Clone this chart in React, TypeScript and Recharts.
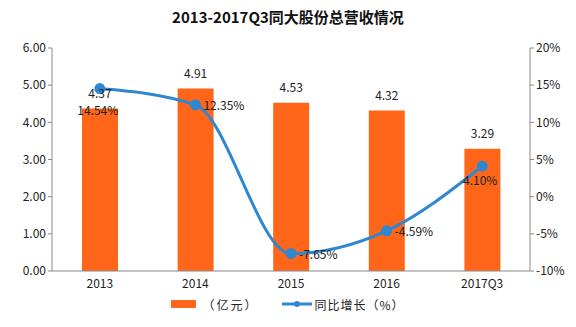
import React from "react";
import { ComposedChart, Bar, Line, XAxis, YAxis, Legend, LabelList } from "recharts";

const categories = ["2013", "2014", "2015", "2016", "2017Q3"];
const revenue = [4.37, 4.91, 4.53, 4.32, 3.29];
const growth = [14.54, 12.35, -7.65, -4.59, 4.1];
const leftTicks = [0, 1, 2, 3, 4, 5, 6];
const rightTicks = [-10, -5, 0, 5, 10, 15, 20];
const title = "2013-2017Q3同大股份总营收情况";
const barName = "（亿元）";
const lineName = "同比增长（%）";

const data = categories.map((c, i) => ({ name: c, revenue: revenue[i], growth: growth[i] }));

const BAR_COLOR = "#FF661A";
const LINE_COLOR = "#2E87CF";
const FONT = "'Noto Sans CJK SC', 'DejaVu Sans', sans-serif";

const GrowthLabel = (props: any) => {
  const { x, y, value, index } = props;
  const text = `${Number(value).toFixed(2)}%`;
  if (index === 0 || index === 4) {
    const dy = index === 0 ? 23 : 16;
    return (
      <text x={x - 2} y={y + dy} textAnchor="middle" dominantBaseline="middle" fontSize={12} fill="#222" fontFamily={FONT}>
        {text}
      </text>
    );
  }
  return (
    <text x={x + 8} y={y + 2} textAnchor="start" dominantBaseline="middle" fontSize={12} fill="#222" fontFamily={FONT}>
      {text}
    </text>
  );
};

const BarLabel = (props: any) => {
  const { x, y, width, value } = props;
  return (
    <text x={x + width / 2} y={y - 14} textAnchor="middle" dominantBaseline="middle" fontSize={12} fill="#222" fontFamily={FONT}>
      {Number(value).toFixed(2)}
    </text>
  );
};

const LegendContent = () => (
  <div style={{ display: "flex", justifyContent: "center", alignItems: "center", fontFamily: FONT, fontSize: 12, color: "#222", height: 22, paddingRight: 8 }}>
    <span style={{ display: "inline-block", width: 25, height: 8, background: BAR_COLOR, marginRight: 6 }} />
    <span style={{ marginRight: 24, letterSpacing: 2 }}>{barName}</span>
    <svg width={30} height={10} style={{ marginRight: 2 }}>
      <line x1={0} y1={5} x2={30} y2={5} stroke={LINE_COLOR} strokeWidth={3} />
      <circle cx={15} cy={5} r={3} fill={LINE_COLOR} />
    </svg>
    <span style={{ letterSpacing: 1 }}>{lineName}</span>
  </div>
);

export default function App() {
  return (
    <div style={{ position: "absolute", left: 0, top: 0, width: 576, height: 327, background: "#fff" }}>
      <div style={{ position: "absolute", left: 0, top: 6, width: 576, textAlign: "center", fontFamily: FONT, fontWeight: 700, fontSize: 15, color: "#111" }}>
        {title}
      </div>
      <ComposedChart width={576} height={327} data={data} margin={{ top: 48, right: 0, left: 8, bottom: 12 }}>
        <XAxis dataKey="name" axisLine={{ stroke: "#888" }} tickLine={false} tick={{ fontSize: 12, fill: "#222", fontFamily: FONT }} height={22} />
        <YAxis yAxisId="left" domain={[0, 6]} ticks={leftTicks} tickFormatter={(v: number) => v.toFixed(2)} axisLine={{ stroke: "#888" }} tickLine={{ stroke: "#888" }} tickSize={4} width={44} tick={{ fontSize: 12, fill: "#222", fontFamily: FONT }} />
        <YAxis yAxisId="right" orientation="right" domain={[-10, 20]} ticks={rightTicks} tickFormatter={(v: number) => `${v}%`} axisLine={{ stroke: "#888" }} tickLine={{ stroke: "#888" }} tickSize={4} width={46} tick={{ fontSize: 12, fill: "#222", fontFamily: FONT }} />
        <Legend verticalAlign="bottom" content={<LegendContent />} />
        <Bar yAxisId="left" dataKey="revenue" name={barName} fill={BAR_COLOR} barSize={36} isAnimationActive={false}>
          <LabelList dataKey="revenue" content={<BarLabel />} />
        </Bar>
        <Line yAxisId="right" type="monotone" dataKey="growth" name={lineName} stroke={LINE_COLOR} strokeWidth={3} dot={{ r: 4, fill: LINE_COLOR, stroke: LINE_COLOR }} isAnimationActive={false}>
          <LabelList dataKey="growth" content={<GrowthLabel />} />
        </Line>
      </ComposedChart>
    </div>
  );
}
